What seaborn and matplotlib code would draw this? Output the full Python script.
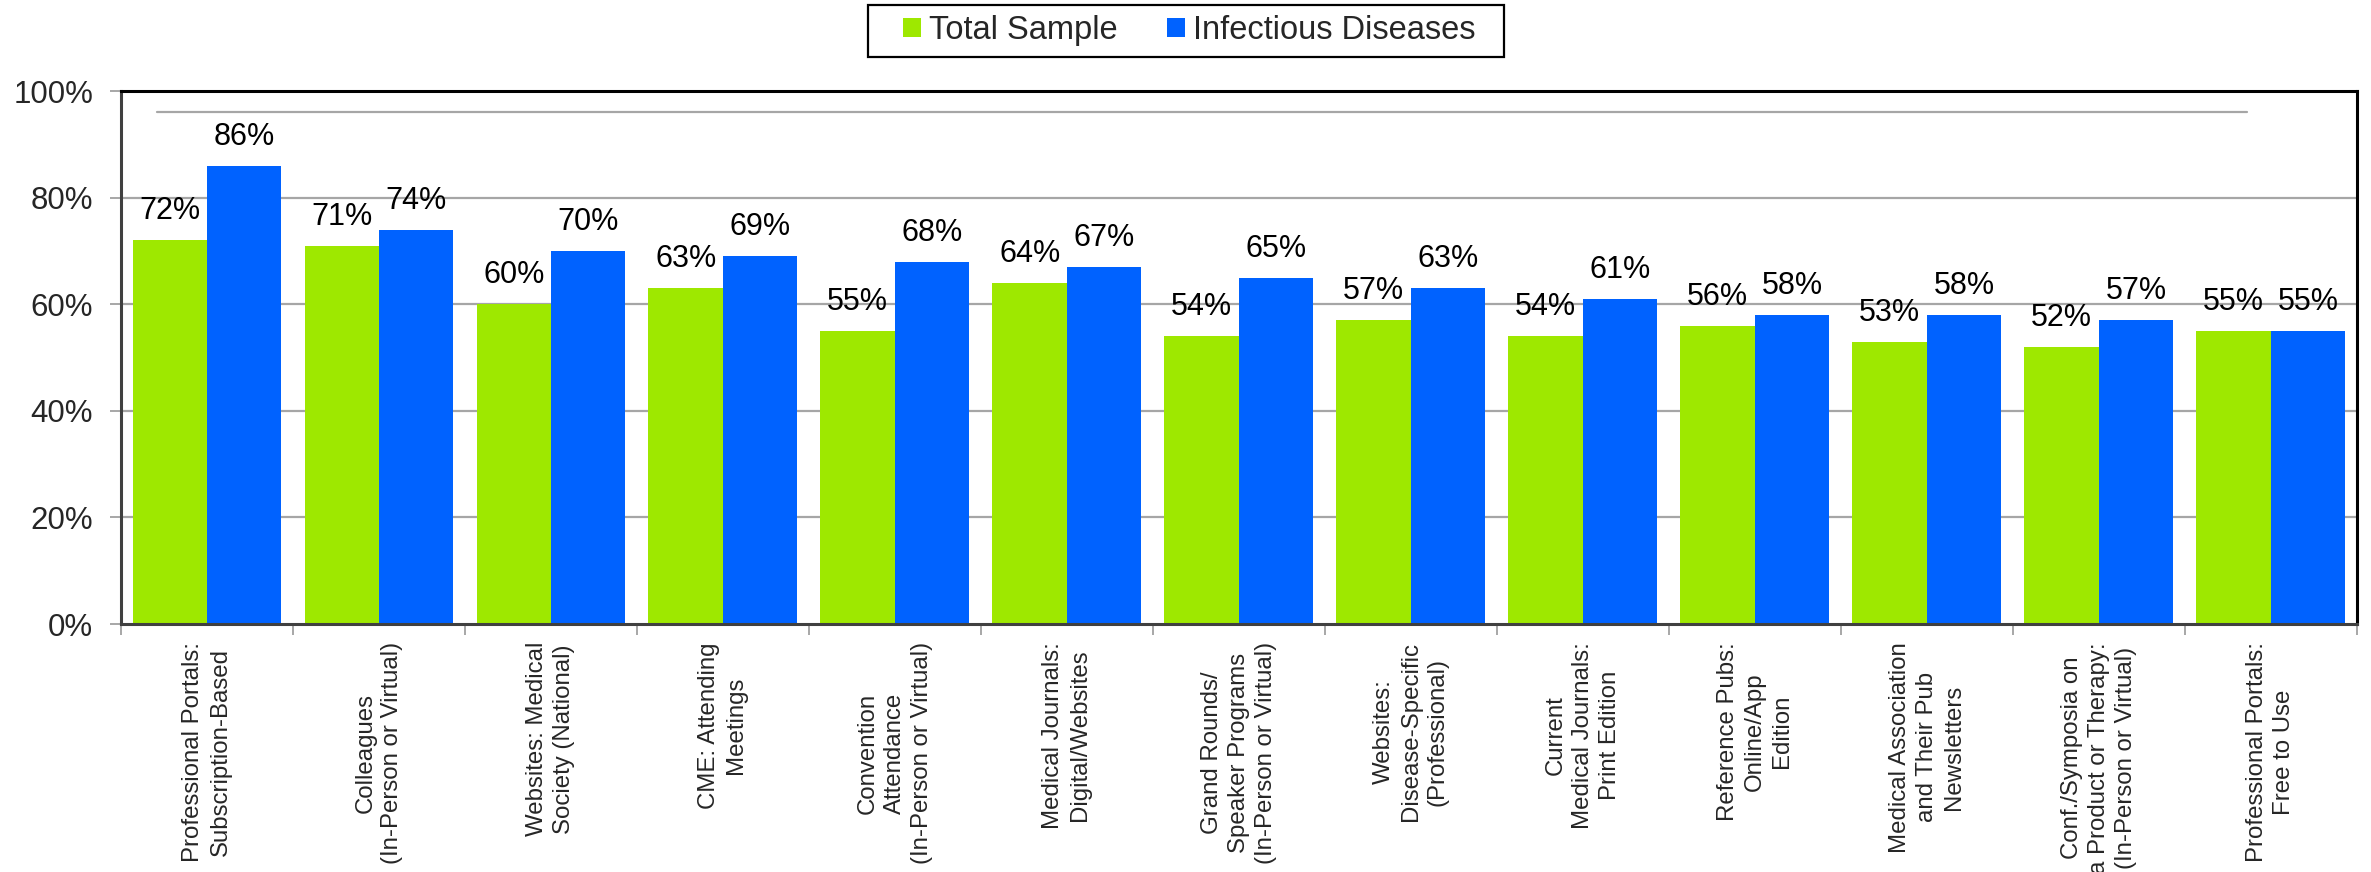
import matplotlib
matplotlib.use("Agg")
import matplotlib.pyplot as plt
import matplotlib.ticker as mticker
from matplotlib.patches import Patch, Rectangle
import seaborn as sns
import pandas as pd

categories = [
    "Professional Portals:\nSubscription-Based",
    "Colleagues\n(In-Person or Virtual)",
    "Websites: Medical\nSociety (National)",
    "CME: Attending\nMeetings",
    "Convention\nAttendance\n(In-Person or Virtual)",
    "Medical Journals:\nDigital/Websites",
    "Grand Rounds/\nSpeaker Programs\n(In-Person or Virtual)",
    "Websites:\nDisease-Specific\n(Professional)",
    "Current\nMedical Journals:\nPrint Edition",
    "Reference Pubs:\nOnline/App\nEdition",
    "Medical Association\nand Their Pub\nNewsletters",
    "Conf./Symposia on\na Product or Therapy:\n(In-Person or Virtual)",
    "Professional Portals:\nFree to Use",
]
total_sample = [72, 71, 60, 63, 55, 64, 54, 57, 54, 56, 53, 52, 55]
infectious_diseases = [86, 74, 70, 69, 68, 67, 65, 63, 61, 58, 58, 57, 55]
series_names = ["Total Sample", "Infectious Diseases"]
series_colors = ["#9EE800", "#0062FF"]
y_ticks = [0, 20, 40, 60, 80, 100]

df = pd.DataFrame({
    "category": categories * 2,
    "value": total_sample + infectious_diseases,
    "series": [series_names[0]] * len(categories) + [series_names[1]] * len(categories),
})

sns.set_theme(style="white")
plt.rcParams["font.family"] = ["Liberation Sans", "DejaVu Sans"]

fig = plt.figure(figsize=(23.71, 8.72), dpi=100)
ax = fig.add_axes([0.051, 0.2844, 0.943, 0.6112])

sns.barplot(
    data=df, x="category", y="value", hue="series",
    hue_order=series_names, palette=series_colors,
    width=0.865, saturation=1, dodge=True, legend=False, ax=ax,
)
for bars in ax.containers:
    for b in bars:
        b.set_edgecolor("none")
        b.set_linewidth(0)
    ax.bar_label(bars, fmt="{:.0f}%", padding=10, fontsize=22, color="black")

ax.set_ylim(0, 100)
ax.set_xlim(-0.5, len(categories) - 0.5)
ax.set_yticks(y_ticks)
ax.yaxis.set_major_formatter(mticker.FuncFormatter(lambda v, _: f"{v:.0f}%"))
ax.set_xlabel("")
ax.set_ylabel("")

# horizontal gridlines plus the upper guide line
for yv in y_ticks[1:-1]:
    ax.axhline(yv, color="#a6a6a6", lw=1.6, zorder=0)
ax.axhline(96, xmin=0.016, xmax=0.951, color="#a6a6a6", lw=1.6, zorder=0)

# category labels, with tick marks on the boundaries between groups
ax.set_xticks(range(len(categories)))
ax.set_xticklabels(categories, rotation=90, ha="center", va="top",
                   multialignment="center", fontsize=17.3, linespacing=1.3)
ax.tick_params(axis="x", which="major", length=0, pad=13)
ax.set_xticks([i + 0.5 for i in range(-1, len(categories))], minor=True)
ax.tick_params(axis="x", which="minor", length=8, width=1.3, color="#a0a0a0",
               direction="out", bottom=True)
ax.tick_params(axis="y", which="major", length=8, width=1.3, color="#a0a0a0",
               direction="out", left=True, labelsize=22.5, pad=12)

for side in ["left", "bottom"]:
    ax.spines[side].set_color("#404040")
    ax.spines[side].set_linewidth(2.2)
for side in ["top", "right"]:
    ax.spines[side].set_color("black")
    ax.spines[side].set_linewidth(2.2)
ax.spines["top"].set_visible(True)
ax.spines["right"].set_visible(True)

# legend entries, with a boxed frame around them
handles = [Patch(facecolor=c, edgecolor="none", label=n) for n, c in zip(series_names, series_colors)]
fig.legend(
    handles=handles, loc="center", bbox_to_anchor=(0.5015, 0.965), ncol=2,
    fontsize=23.5, frameon=False,
    handlelength=0.55, handleheight=0.55, handletextpad=0.25,
    columnspacing=1.5, borderpad=0.2, borderaxespad=0,
)
fig.patches.append(Rectangle(
    (868 / 2371, 1 - 57 / 872), 636 / 2371, 52 / 872,
    transform=fig.transFigure, fill=False, edgecolor="black", linewidth=1.6,
))

fig.savefig("out.png", dpi=100, facecolor="white")
